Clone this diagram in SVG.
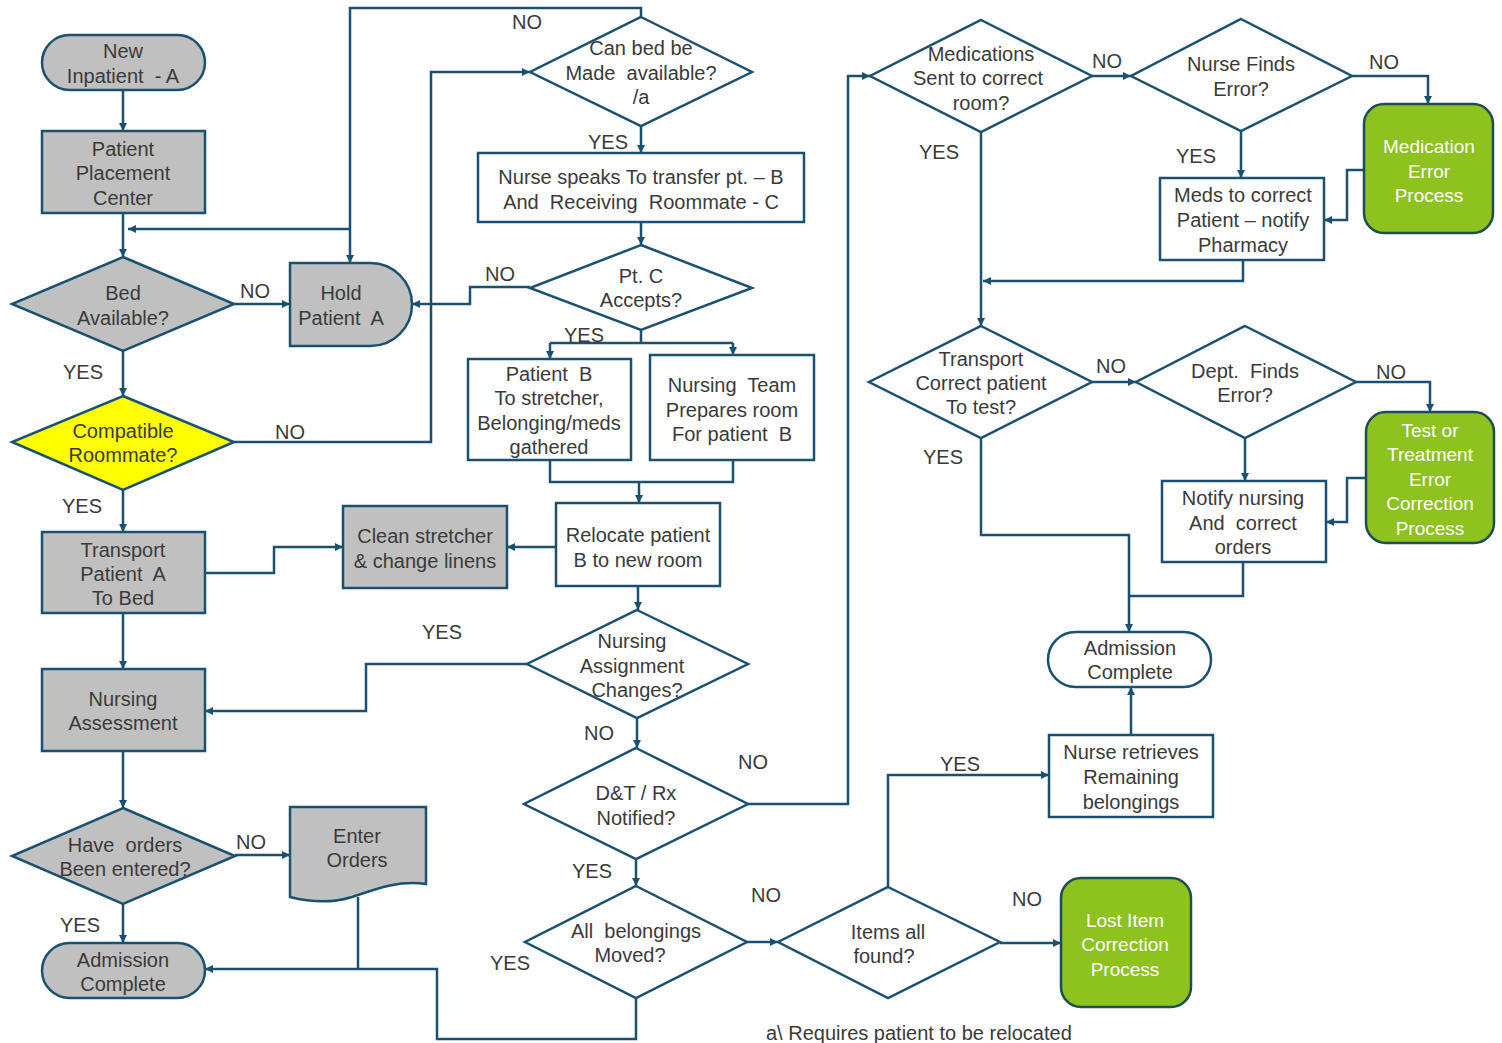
<svg xmlns="http://www.w3.org/2000/svg" width="1502" height="1043" viewBox="0 0 1502 1043">
<defs>
<marker id="ah" viewBox="0 0 8 8" refX="8" refY="4" markerWidth="8" markerHeight="8" markerUnits="userSpaceOnUse" orient="auto">
<path d="M0,0 L8,4 L0,8 z" fill="#1a5170"/>
</marker>
</defs>
<style>
.s{stroke:#1a5170;stroke-width:2.5;}
.g{fill:#c0c0c0;}
.w{fill:#ffffff;}
.y{fill:#ffff00;}
.gr{fill:#8dc21f;stroke:#1e4d52;stroke-width:2.5;}
text{font-family:"Liberation Sans",Arial,sans-serif;font-size:20px;fill:#3a3a3a;text-anchor:middle;white-space:pre;}
.wt{fill:#ffffff;font-size:19px;}
.c path{fill:none;stroke:#1a5170;stroke-width:2.5;}
.c .a{marker-end:url(#ah);}
</style>
<rect width="1502" height="1043" fill="#ffffff"/>

<g class="c" id="connectors">
<path class="a" d="M123,90 V131"/>
<path class="a" d="M123,213 V257"/>
<path class="a" d="M350,229 H128"/>
<path class="a" d="M641,17 V8 H350 V263"/>
<path class="a" d="M234,304 H290"/>
<path class="a" d="M530,287 H470 V304 H412"/>
<path class="a" d="M123,351 V396"/>
<path class="a" d="M123,490 V532"/>
<path class="a" d="M234,442 H431 V72 H530"/>
<path class="a" d="M641,126 V153"/>
<path class="a" d="M641,222 V245"/>
<path d="M641,330 V343 M550,343 H733"/>
<path class="a" d="M550,343 V359"/>
<path class="a" d="M733,343 V355"/>
<path d="M550,460 V482 H733 V460"/>
<path class="a" d="M639,482 V503"/>
<path class="a" d="M556,547 H507"/>
<path class="a" d="M205,573 H274 V547 H343"/>
<path class="a" d="M123,613 V669"/>
<path class="a" d="M638,586 V610"/>
<path class="a" d="M527,664 H366 V711 H205"/>
<path class="a" d="M637,718 V748"/>
<path class="a" d="M748,804 H848 V76 H870"/>
<path class="a" d="M636,859 V886"/>
<path class="a" d="M636,998 V1039 H437 V969 H205"/>
<path d="M358,897 V969"/>
<path class="a" d="M747,942 H778"/>
<path class="a" d="M888,887 V775 H1049"/>
<path class="a" d="M1000,943 H1061"/>
<path class="a" d="M1131,735 V687"/>
<path class="a" d="M123,751 V808"/>
<path class="a" d="M235,855 H290"/>
<path class="a" d="M123,904 V943"/>
<path class="a" d="M1092,76 H1131"/>
<path class="a" d="M981,132 V326"/>
<path class="a" d="M1352,76 H1428 V104"/>
<path class="a" d="M1241,131 V178"/>
<path class="a" d="M1364,170 H1347 V220 H1324"/>
<path class="a" d="M1243,260 V281 H983"/>
<path class="a" d="M1092,382 H1136"/>
<path class="a" d="M981,438 V535 H1129 V632"/>
<path class="a" d="M1356,382 H1430 V412"/>
<path class="a" d="M1245,438 V481"/>
<path class="a" d="M1366,478 H1347 V522 H1326"/>
<path d="M1243,562 V596 H1129"/>
</g>

<g id="labels">
<text x="527" y="29">NO</text>
<text x="255" y="298">NO</text>
<text x="500" y="281">NO</text>
<text x="83" y="379">YES</text>
<text x="290" y="439">NO</text>
<text x="608" y="149">YES</text>
<text x="584" y="342">YES</text>
<text x="82" y="513">YES</text>
<text x="442" y="639">YES</text>
<text x="599" y="740">NO</text>
<text x="753" y="769">NO</text>
<text x="592" y="878">YES</text>
<text x="510" y="970">YES</text>
<text x="766" y="902">NO</text>
<text x="960" y="771">YES</text>
<text x="1027" y="906">NO</text>
<text x="251" y="849">NO</text>
<text x="80" y="932">YES</text>
<text x="1107" y="68">NO</text>
<text x="1384" y="69">NO</text>
<text x="939" y="159">YES</text>
<text x="1196" y="163">YES</text>
<text x="1111" y="373">NO</text>
<text x="1391" y="379">NO</text>
<text x="943" y="464">YES</text>
</g>

<g id="new-inpatient">
<rect class="s g" x="42" y="35" width="163" height="55" rx="27.5"/>
<text x="123" y="58">New</text>
<text x="123" y="83">Inpatient  - A</text>
</g>
<g id="patient-placement">
<rect class="s g" x="42" y="131" width="163" height="82"/>
<text x="123" y="156">Patient</text>
<text x="123" y="180">Placement</text>
<text x="123" y="205">Center</text>
</g>
<g id="bed-available">
<polygon class="s g" points="123,257 234,304 123,351 12,304"/>
<text x="123" y="300">Bed</text>
<text x="123" y="325">Available?</text>
</g>
<g id="hold-patient">
<path class="s g" d="M290,263 H370.5 A41.5,41.5 0 0 1 370.5,346 H290 Z"/>
<text x="341" y="300">Hold</text>
<text x="341" y="325">Patient  A</text>
</g>
<g id="compatible-roommate">
<polygon class="s y" points="123,396 234,442 123,490 12,442"/>
<text x="123" y="438">Compatible</text>
<text x="123" y="462">Roommate?</text>
</g>
<g id="can-bed">
<polygon class="s w" points="641,17 752,72 641,126 530,72"/>
<text x="641" y="55">Can bed be</text>
<text x="641" y="80">Made  available?</text>
<text x="641" y="104">/a</text>
</g>
<g id="nurse-speaks">
<rect class="s w" x="478" y="153" width="326" height="69"/>
<text x="641" y="184">Nurse speaks To transfer pt. – B</text>
<text x="641" y="209">And  Receiving  Roommate - C</text>
</g>
<g id="pt-c-accepts">
<polygon class="s w" points="641,245 752,288 641,330 530,288"/>
<text x="641" y="283">Pt. C</text>
<text x="641" y="307">Accepts?</text>
</g>
<g id="patient-b">
<rect class="s w" x="468" y="359" width="163" height="101"/>
<text x="549" y="381">Patient  B</text>
<text x="549" y="405">To stretcher,</text>
<text x="549" y="430">Belonging/meds</text>
<text x="549" y="454">gathered</text>
</g>
<g id="nursing-team">
<rect class="s w" x="650" y="355" width="164" height="105"/>
<text x="732" y="392">Nursing  Team</text>
<text x="732" y="417">Prepares room</text>
<text x="732" y="441">For patient  B</text>
</g>
<g id="relocate">
<rect class="s w" x="556" y="503" width="164" height="83"/>
<text x="638" y="542">Relocate patient</text>
<text x="638" y="567">B to new room</text>
</g>
<g id="clean-stretcher">
<rect class="s g" x="343" y="506" width="164" height="82"/>
<text x="425" y="543">Clean stretcher</text>
<text x="425" y="568">&amp; change linens</text>
</g>
<g id="transport-a">
<rect class="s g" x="42" y="532" width="163" height="81"/>
<text x="123" y="557">Transport</text>
<text x="123" y="581">Patient  A</text>
<text x="123" y="605">To Bed</text>
</g>
<g id="nursing-assignment">
<polygon class="s w" points="637,610 748,664 637,718 527,664"/>
<text x="632" y="648">Nursing</text>
<text x="632" y="673">Assignment</text>
<text x="637" y="697">Changes?</text>
</g>
<g id="nursing-assessment">
<rect class="s g" x="42" y="669" width="163" height="82"/>
<text x="123" y="706">Nursing</text>
<text x="123" y="730">Assessment</text>
</g>
<g id="dt-rx">
<polygon class="s w" points="636,748 748,804 636,859 524,804"/>
<text x="636" y="800">D&amp;T / Rx</text>
<text x="636" y="825">Notified?</text>
</g>
<g id="all-belongings">
<polygon class="s w" points="636,886 747,942 636,998 525,942"/>
<text x="636" y="938">All  belongings</text>
<text x="630" y="962">Moved?</text>
</g>
<g id="items-found">
<polygon class="s w" points="888,887 1000,942 888,998 778,942"/>
<text x="888" y="939">Items all</text>
<text x="884" y="963">found?</text>
</g>
<g id="lost-item">
<rect class="gr" x="1061" y="878" width="130" height="129" rx="20"/>
<text class="wt" x="1125" y="927">Lost Item</text>
<text class="wt" x="1125" y="951">Correction</text>
<text class="wt" x="1125" y="976">Process</text>
</g>
<g id="nurse-retrieves">
<rect class="s w" x="1049" y="735" width="164" height="82"/>
<text x="1131" y="759">Nurse retrieves</text>
<text x="1131" y="784">Remaining</text>
<text x="1131" y="809">belongings</text>
</g>
<g id="admission-complete-right">
<rect class="s w" x="1048" y="632" width="163" height="55" rx="27.5"/>
<text x="1130" y="655">Admission</text>
<text x="1130" y="679">Complete</text>
</g>
<g id="medications-sent">
<polygon class="s w" points="981,20 1092,76 981,132 870,76"/>
<text x="981" y="61">Medications</text>
<text x="978" y="85">Sent to correct</text>
<text x="981" y="110">room?</text>
</g>
<g id="nurse-finds">
<polygon class="s w" points="1241,19 1352,76 1241,131 1131,76"/>
<text x="1241" y="71">Nurse Finds</text>
<text x="1241" y="96">Error?</text>
</g>
<g id="medication-error">
<rect class="gr" x="1364" y="104" width="129" height="129" rx="20"/>
<text class="wt" x="1429" y="153">Medication</text>
<text class="wt" x="1429" y="178">Error</text>
<text class="wt" x="1429" y="202">Process</text>
</g>
<g id="meds-correct">
<rect class="s w" x="1160" y="178" width="164" height="82"/>
<text x="1243" y="202">Meds to correct</text>
<text x="1243" y="227">Patient – notify</text>
<text x="1243" y="252">Pharmacy</text>
</g>
<g id="transport-correct">
<polygon class="s w" points="981,326 1092,382 981,438 869,382"/>
<text x="981" y="366">Transport</text>
<text x="981" y="390">Correct patient</text>
<text x="981" y="414">To test?</text>
</g>
<g id="dept-finds">
<polygon class="s w" points="1245,326 1356,382 1245,438 1136,382"/>
<text x="1245" y="378">Dept.  Finds</text>
<text x="1245" y="402">Error?</text>
</g>
<g id="test-treatment-error">
<rect class="gr" x="1366" y="412" width="128" height="131" rx="20"/>
<text class="wt" x="1430" y="437">Test or</text>
<text class="wt" x="1430" y="461">Treatment</text>
<text class="wt" x="1430" y="486">Error</text>
<text class="wt" x="1430" y="510">Correction</text>
<text class="wt" x="1430" y="535">Process</text>
</g>
<g id="notify-nursing">
<rect class="s w" x="1162" y="481" width="164" height="81"/>
<text x="1243" y="505">Notify nursing</text>
<text x="1243" y="530">And  correct</text>
<text x="1243" y="554">orders</text>
</g>
<g id="have-orders">
<polygon class="s g" points="123,808 235,856 123,904 12,856"/>
<text x="125" y="852">Have  orders</text>
<text x="125" y="876">Been entered?</text>
</g>
<g id="enter-orders">
<path class="s g" d="M290,807 H426 V884 C400,880 378,888 352,897 C330,904 310,902 290,897 Z"/>
<text x="357" y="843">Enter</text>
<text x="357" y="867">Orders</text>
</g>
<g id="admission-complete-left">
<rect class="s g" x="42" y="943" width="163" height="55" rx="27.5"/>
<text x="123" y="967">Admission</text>
<text x="123" y="991">Complete</text>
</g>
<g id="footnote">
<text x="766" y="1040" style="text-anchor:start">a\ Requires patient to be relocated</text>
</g>
</svg>
